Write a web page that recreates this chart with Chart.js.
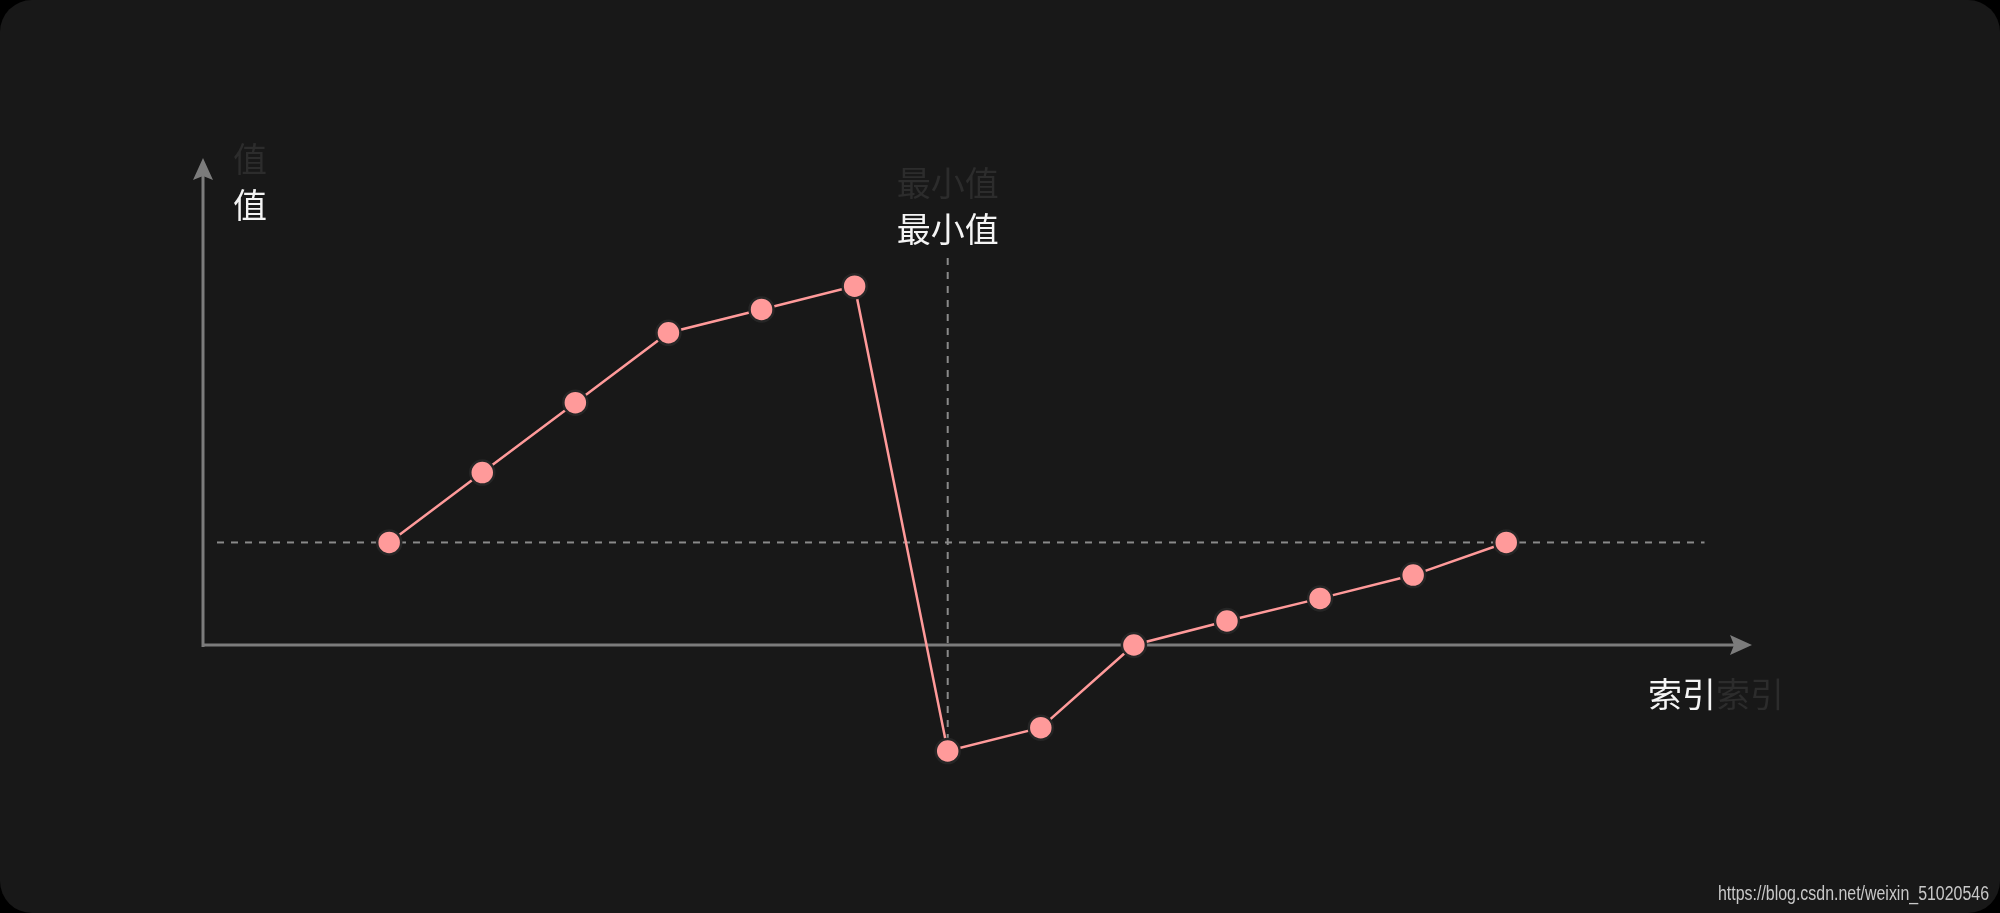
<!DOCTYPE html>
<html>
<head>
<meta charset="utf-8">
<script src="https://cdn.jsdelivr.net/npm/chart.js@4"></script>
<style>
  html, body { margin: 0; padding: 0; background: #000; }
  canvas { display: block; }
</style>
</head>
<body>
<canvas id="minChart" width="2000" height="913"></canvas>
<script>
// 資料：索引與對應的值
const indexes = [0, 1, 2, 3, 4, 5, 6, 7, 8, 9, 10, 11, 12];
const values = [4.4, 7.4, 10.4, 13.4, 14.4, 15.4, -4.55, -3.55, 0, 1.03, 2.0, 3.0, 4.4];

// 文字標籤
const yLabel = '值';
const xLabel = '索引';
const minLabel = '最小值';
const watermark = 'https://blog.csdn.net/weixin_51020546';

const lineColor = '#ff9a9a';
const axisColor = '#7c7c7c';
const dashColor = '#8a8a8a';
const cjkFont = '"Noto Sans CJK SC", "Noto Sans CJK TC", sans-serif';

// 找出最小值的位置
let minIdx = 0;
values.forEach((v, i) => { if (v < values[minIdx]) minIdx = i; });

function roundRect(ctx, x, y, w, h, r) {
  ctx.beginPath();
  ctx.moveTo(x + r, y);
  ctx.arcTo(x + w, y, x + w, y + h, r);
  ctx.arcTo(x + w, y + h, x, y + h, r);
  ctx.arcTo(x, y + h, x, y, r);
  ctx.arcTo(x, y, x + w, y, r);
  ctx.closePath();
}

// 背景、座標軸與虛線
const decorPlugin = {
  id: 'decor',
  beforeDraw(chart) {
    const ctx = chart.ctx;
    ctx.save();
    ctx.fillStyle = '#000';
    ctx.fillRect(0, 0, chart.width, chart.height);
    ctx.fillStyle = '#181818';
    roundRect(ctx, 0, 0, chart.width, chart.height, 32);
    ctx.fill();
    ctx.restore();
  },
  beforeDatasetsDraw(chart) {
    const ctx = chart.ctx;
    const xs = chart.scales.x, ys = chart.scales.y;
    const area = chart.chartArea;
    const x0 = xs.getPixelForValue(xs.min);
    const y0 = ys.getPixelForValue(0);

    ctx.save();
    // 虛線：起始值的水平線 & 最小值的垂直線
    ctx.strokeStyle = dashColor;
    ctx.lineWidth = 2;
    ctx.setLineDash([7, 7]);
    const yRef = ys.getPixelForValue(values[0]);
    ctx.beginPath();
    ctx.moveTo(x0 + 14, yRef);
    ctx.lineTo(xs.getPixelForValue(14.13), yRef);
    ctx.stroke();

    const xMin = xs.getPixelForValue(indexes[minIdx]);
    ctx.beginPath();
    ctx.moveTo(xMin, area.top + 100);
    ctx.lineTo(xMin, area.bottom);
    ctx.stroke();
    ctx.setLineDash([]);

    // 座標軸
    ctx.strokeStyle = axisColor;
    ctx.fillStyle = axisColor;
    ctx.lineWidth = 3;
    ctx.beginPath();
    ctx.moveTo(x0, y0 + 2);
    ctx.lineTo(x0, area.top + 16);
    ctx.moveTo(x0, y0);
    ctx.lineTo(area.right - 16, y0);
    ctx.stroke();

    // 箭頭
    ctx.beginPath();
    ctx.moveTo(x0, area.top);
    ctx.lineTo(x0 - 10, area.top + 22);
    ctx.lineTo(x0, area.top + 18);
    ctx.lineTo(x0 + 10, area.top + 22);
    ctx.closePath();
    ctx.fill();
    ctx.beginPath();
    ctx.moveTo(area.right, y0);
    ctx.lineTo(area.right - 22, y0 - 10);
    ctx.lineTo(area.right - 18, y0);
    ctx.lineTo(area.right - 22, y0 + 10);
    ctx.closePath();
    ctx.fill();
    ctx.restore();
  },
  afterDraw(chart) {
    const ctx = chart.ctx;
    const xs = chart.scales.x, ys = chart.scales.y;
    const area = chart.chartArea;
    const x0 = xs.getPixelForValue(xs.min);
    const y0 = ys.getPixelForValue(0);
    const xMin = xs.getPixelForValue(indexes[minIdx]);

    ctx.save();
    ctx.font = '34px ' + cjkFont;
    ctx.textBaseline = 'middle';

    // 值（淡色 + 白色）
    ctx.textAlign = 'left';
    ctx.fillStyle = '#2c2c2c';
    ctx.fillText(yLabel, x0 + 30, area.top + 1);
    ctx.fillStyle = '#f4f4f4';
    ctx.fillText(yLabel, x0 + 30, area.top + 47);

    // 最小值
    ctx.textAlign = 'center';
    ctx.fillStyle = '#2c2c2c';
    ctx.fillText(minLabel, xMin, area.top + 25);
    ctx.fillStyle = '#f4f4f4';
    ctx.fillText(minLabel, xMin, area.top + 71);

    // 索引
    ctx.textAlign = 'left';
    const w = ctx.measureText(xLabel).width;
    ctx.fillStyle = '#f4f4f4';
    ctx.fillText(xLabel, area.right - 104, y0 + 49);
    ctx.fillStyle = '#2c2c2c';
    ctx.fillText(xLabel, area.right - 104 + w, y0 + 49);

    // 浮水印
    ctx.font = '20px "Liberation Sans", Arial, sans-serif';
    ctx.textAlign = 'right';
    ctx.textBaseline = 'alphabetic';
    ctx.fillStyle = '#c8c8c8';
    ctx.fillText(watermark, chart.width - 11, chart.height - 13, 271);
    ctx.restore();
  }
};

const ctx = document.getElementById('minChart').getContext('2d');
new Chart(ctx, {
  type: 'line',
  data: {
    datasets: [{
      data: indexes.map((x, i) => ({ x: x, y: values[i] })),
      borderColor: lineColor,
      borderWidth: 2.5,
      backgroundColor: lineColor,
      pointBackgroundColor: lineColor,
      pointBorderColor: '#262626',
      pointBorderWidth: 2.5,
      pointRadius: 12,
      tension: 0,
      clip: false
    }]
  },
  options: {
    responsive: false,
    animation: false,
    devicePixelRatio: 1,
    layout: { padding: { left: 203, right: 248, top: 158, bottom: 155 } },
    scales: {
      x: { type: 'linear', min: -2, max: 14.64, display: false },
      y: { type: 'linear', min: -4.85, max: 20.9, display: false }
    },
    plugins: {
      legend: { display: false },
      tooltip: { enabled: false }
    }
  },
  plugins: [decorPlugin]
});
</script>
</body>
</html>
